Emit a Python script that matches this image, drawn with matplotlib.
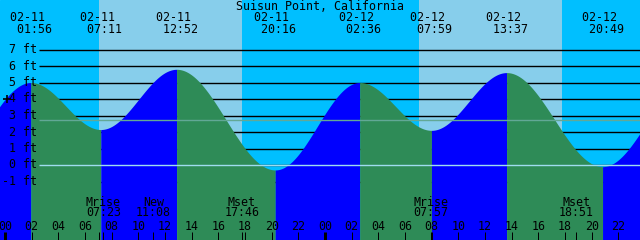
import numpy as np
import matplotlib
matplotlib.use('Agg')
import matplotlib.pyplot as plt

# tide extremes (hours from 02-11 00:00, feet); first/last lie outside the view
tide_hours = [-4.5, 1.933, 7.183, 12.867, 20.267, 26.6, 31.983, 37.617, 44.817, 51.3]
tide_ft = [0.0, 5.0, 2.15, 5.8, -0.3, 5.0, 2.1, 5.6, -0.1, 5.0]
tide_dates = ['', '02-11', '02-11', '02-11', '02-11', '02-12', '02-12', '02-12', '02-12', '']
tide_times = ['', '01:56', '07:11', '12:52', '20:16', '02:36', '07:59', '13:37', '20:49', '']

# daylight spans (sunrise, sunset) in hours
day_spans = [(7.05, 17.78), (31.05, 41.78)]

# moon events
moon_hours = [7.383, 11.133, 17.767, 31.95, 42.85]
moon_names = ['Mrise', 'New', 'Mset', 'Mrise', 'Mset']
moon_times = ['07:23', '11:08', '17:46', '07:57', '18:51']
extra_ticks = [7.05]

ft_levels = [7, 6, 5, 4, 3, 2, 1, 0, -1]
datum_levels = [0.0, 2.7]
current_ft = 4.0

NIGHT = '#00BFFF'
DAY = '#87CEEB'
FALL = '#2E8B57'
RISE = '#0000FF'
FONT = 'DejaVu Sans Mono'
FS = 8.4

# pixel layout: x = 5 + 13.333*hour, y = 165 - 16.5*ft
PX_HR = 40 / 3.0
X0 = 5.0


def xh(px):
    return (px - X0) / PX_HR


def yf(py):
    return (165.0 - py) / 16.5


fig = plt.figure(figsize=(6.4, 2.4), dpi=100)
ax = fig.add_axes([0, 0, 1, 1])
ax.set_xlim(xh(0), xh(640))
ax.set_ylim(yf(240), yf(0))
ax.axis('off')
ax.axvspan(xh(0), xh(640), color=NIGHT, zorder=0)
for a, b in day_spans:
    ax.axvspan(a, b, color=DAY, zorder=0.5, lw=0)

# foot lines behind the water
ax.hlines(ft_levels, xh(39), xh(640), color='black', lw=1.0, zorder=1)

# tide curve, cosine between extremes
for i in range(len(tide_hours) - 1):
    t0, t1 = tide_hours[i], tide_hours[i + 1]
    h0, h1 = tide_ft[i], tide_ft[i + 1]
    t = np.linspace(t0, t1, 200)
    h = h0 + (h1 - h0) * (1 - np.cos(np.pi * (t - t0) / (t1 - t0))) / 2
    col = RISE if h1 > h0 else FALL
    ax.fill_between(t, h, yf(240), color=col, lw=0, zorder=2)

ax.hlines(datum_levels[0], xh(39), xh(640), color='#9fdcef', lw=1.0, zorder=3)
ax.hlines(datum_levels[1], xh(39), xh(640), color='#62a896', lw=1.0, zorder=3)

# y labels
for v in ft_levels:
    ax.text(xh(37), v, f'{v} ft', ha='right', va='center', family=FONT,
            fontsize=FS, zorder=5)
ax.plot(xh(7), current_ft, '+', color='black', ms=6, mew=1.2, zorder=6)

# title + tide labels
ax.text(xh(320), yf(6), 'Suisun Point, California', ha='center', va='center',
        family=FONT, fontsize=FS, zorder=5)
for t, d, s in zip(tide_hours, tide_dates, tide_times):
    if not d:
        continue
    ax.text(t, yf(17), d + ' ', ha='center', va='center', family=FONT,
            fontsize=FS, zorder=5)
    ax.text(t, yf(29), ' ' + s, ha='center', va='center', family=FONT,
            fontsize=FS, zorder=5)

# hour ticks and labels
for hr in range(0, 48, 2):
    lw = 3 if hr % 24 == 0 else 1
    ax.vlines(hr, yf(240), yf(232), color='black', lw=lw * 0.72, zorder=5)
    ax.text(hr, yf(226), f'{hr % 24:02d}', ha='center', va='center',
            family=FONT, fontsize=FS, zorder=5)

for t in moon_hours + extra_ticks:
    ax.vlines(t, yf(240), yf(232), color='black', lw=0.72, zorder=5)
for t, n, s in zip(moon_hours, moon_names, moon_times):
    ax.text(t, yf(202), n, ha='center', va='center', family=FONT,
            fontsize=FS, zorder=5)
    ax.text(t, yf(213), s, ha='center', va='center', family=FONT,
            fontsize=FS, zorder=5)

fig.savefig('out.png', dpi=100)
